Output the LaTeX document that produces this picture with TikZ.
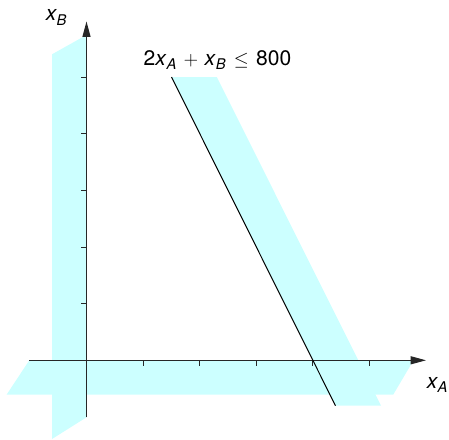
\documentclass[tikz,border=0pt]{standalone}
\usepackage{fontspec}
\setsansfont{TeX Gyre Heros}
\usepackage{amsmath}
\usetikzlibrary{arrows.meta}
\definecolor{bandcyan}{RGB}{204,255,255}
\begin{document}
\begin{tikzpicture}[x=0.75pt,y=-0.75pt,
  band/.style={fill=bandcyan,draw=none},
  axis/.style={line width=0.75pt,draw=black!85,-{Triangle[length=11.5pt,width=6pt]}},
  tick/.style={line width=0.75pt,draw=black!85},
  lbl/.style={font=\sffamily\fontsize{15.8}{18}\selectfont,inner sep=0pt},
  cline/.style={line width=0.75pt,draw=black}]
\useasboundingbox (0,0) rectangle (449,439);
% shaded bands (infeasible sides)
\fill[band] (52,54.3) -- (86.5,35) -- (86.5,417.3) -- (52,439) -- cycle;
\fill[band] (29.3,360.3) -- (413.5,360.3) -- (393.3,394.5) -- (6.7,394.5) -- cycle;
\fill[band] (171.5,77) -- (216.8,77) -- (381,405.7) -- (335.5,405.7) -- cycle;
% axes
\coordinate (xs) at (29.3,360.3);
\coordinate (xe) at (426,360.3);
\coordinate (ys) at (86.5,417.3);
\coordinate (ye) at (86.5,21.5);
\draw[axis] (xs) -- (xe);
\draw[axis] (ys) -- (ye);
% ticks
\foreach \i in {1,...,5}{
  \coordinate (tx\i) at (86.5+56.6*\i,360.3);
  \coordinate (ty\i) at (86.5,360.3-56.6*\i);
  \draw[tick] (tx\i) -- ++(0,5.5);
  \draw[tick] (ty\i) -- ++(-5.5,0);
}
% constraint line
\coordinate (l1) at (171.5,77);
\coordinate (l2) at (335.5,405.7);
\draw[cline] (l1) -- (l2);
% labels
\node[lbl] (lxb) at (56.5,17.5) {\itshape x\textsubscript{B}};
\node[lbl] (lxa) at (437.5,385) {\itshape x\textsubscript{A}};
\node[lbl] (con) at (217.5,60) {2\textit{x}\textsubscript{\textit{A}}${}\mkern2mu+\mkern2mu{}$\textit{x}\textsubscript{\textit{B}}${}\mkern2mu\leq\mkern2mu{}$800};
\end{tikzpicture}
\end{document}
